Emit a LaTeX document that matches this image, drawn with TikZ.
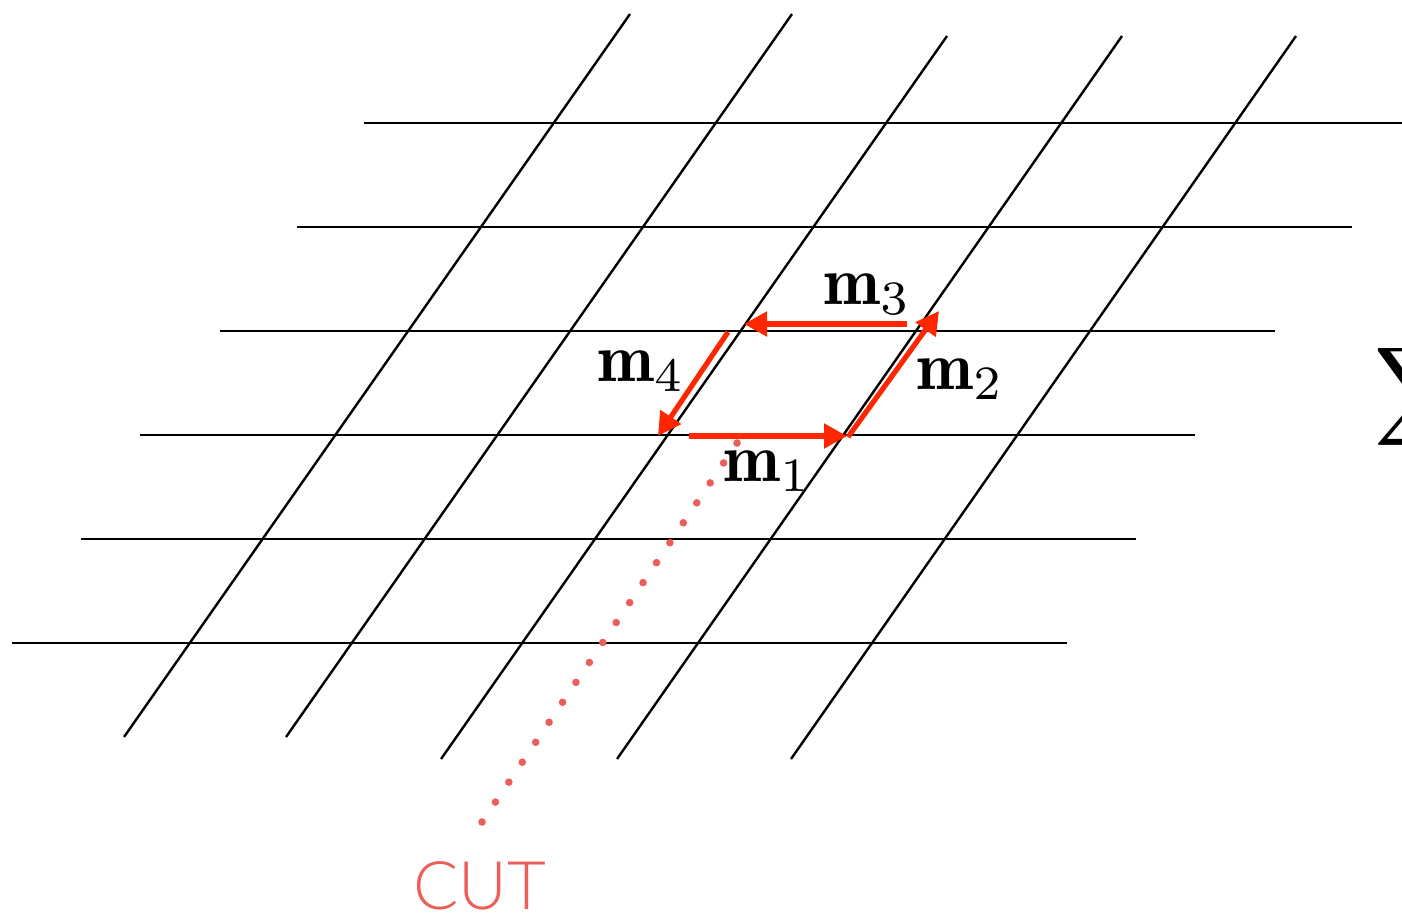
\documentclass[tikz,border=0pt]{standalone}
\usepackage{fontspec}
\newfontfamily\cutfont{Lato Light}
\usetikzlibrary{arrows.meta,calc}
\definecolor{arrowred}{RGB}{255,38,0}
\definecolor{cutred}{RGB}{236,94,90}
\tikzset{
  hline/.style={line width=1.45pt, black},
  dline/.style={line width=1.2pt, black},
  vec/.style={arrowred, line width=2.6pt, -{Triangle[length=11.5pt,width=12pt]}},
  lbl/.style={anchor=base west, inner sep=0pt, scale=3.42},
  cutdot/.style={fill=cutred, circle, inner sep=0pt, minimum size=3.8pt},
}
\begin{document}
\begin{tikzpicture}[x=0.5pt,y=-0.5pt]
\useasboundingbox (0,0) rectangle (1402,917);
\clip (0,0) rectangle (1402,917);
% horizontal lines
\foreach \y/\a/\b in {123/364/1420, 227/297/1352, 331/220/1275, 435/140/1195, 539/81/1136, 643/12/1067}
  \draw[hline] (\a,\y) -- (\b,\y);
% slanted lines
\foreach \tx/\ty/\bx/\by in {630/14/124/737, 792/14/286/737, 947/36/441/759, 1122/36/617/759, 1296/36/791/759}
  \draw[dline] (\tx,\ty) -- (\bx,\by);
% vectors
\coordinate (m1s) at (689,436); \coordinate (m1e) at (847,436);
\coordinate (m2s) at (848,437); \coordinate (m2e) at (939,311);
\coordinate (m3s) at (907,324); \coordinate (m3e) at (744,324);
\coordinate (m4s) at (728,332); \coordinate (m4e) at (658,436);
\draw[vec] (m1s) -- (m1e);
\draw[vec] (m2s) -- (m2e);
\draw[vec] (m3s) -- (m3e);
\draw[vec] (m4s) -- (m4e);
% labels
\node[lbl] (l1) at (722,481) {$\mathbf{m}_1$};
\node[lbl] (l2) at (915,389) {$\mathbf{m}_2$};
\node[lbl] (l3) at (822,304) {$\mathbf{m}_3$};
\node[lbl] (l4) at (596,381) {$\mathbf{m}_4$};
% cut
\coordinate (cs) at (737,443); \coordinate (ce) at (482,822);
\foreach \i in {0,...,19}
  \node[cutdot] (d\i) at ($(cs)!\i/19!(ce)$) {};
\node[anchor=base, inner sep=0pt, text=cutred, font=\cutfont\fontsize{33.5}{40}\selectfont] (cut) at (480,909) {CUT};
% partial sum symbol
\node[anchor=north west, inner sep=0pt, scale=3.46] (sum) at (1373,340) {$\displaystyle\sum$};
\end{tikzpicture}
\end{document}
